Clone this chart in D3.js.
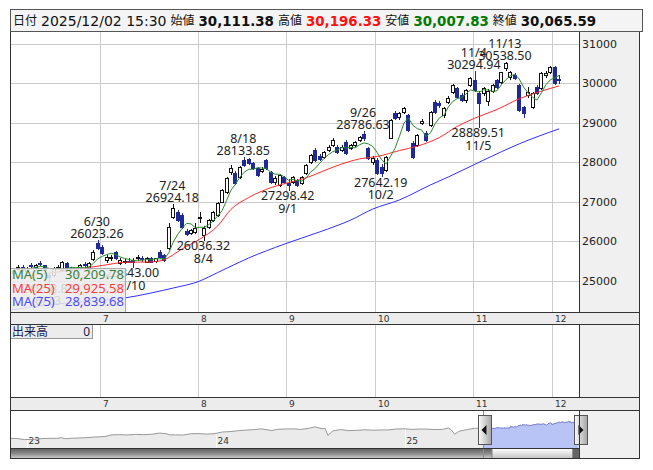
<!DOCTYPE html>
<head>
  <meta charset="utf-8">
  <script src="https://d3js.org/d3.v7.min.js"></script>
  <style>
    body { margin: 0; background: #fff; }
    svg { display: block; }
  </style>
</head>
<body>
<script>
  // daily candles, 2025/6/2 - 2025/12/2
  var dates = ["6/2","6/3","6/4","6/5","6/6","6/9","6/10","6/11","6/12","6/13","6/16","6/17","6/18","6/19","6/20","6/23","6/24","6/25","6/26","6/27","6/30",
    "7/1","7/2","7/3","7/4","7/7","7/8","7/9","7/10","7/11","7/14","7/15","7/16","7/17","7/18","7/22","7/23","7/24","7/25","7/28","7/29","7/30","7/31",
    "8/1","8/4","8/5","8/6","8/7","8/8","8/12","8/13","8/14","8/15","8/18","8/19","8/20","8/21","8/22","8/25","8/26","8/27","8/28","8/29",
    "9/1","9/2","9/3","9/4","9/5","9/8","9/9","9/10","9/11","9/12","9/16","9/17","9/18","9/19","9/22","9/24","9/25","9/26","9/29","9/30",
    "10/1","10/2","10/3","10/6","10/7","10/8","10/9","10/10","10/14","10/15","10/16","10/17","10/20","10/21","10/22","10/23","10/24","10/27","10/28","10/29","10/30","10/31",
    "11/4","11/5","11/6","11/7","11/10","11/11","11/12","11/13","11/14","11/17","11/18","11/19","11/20","11/21","11/25","11/26","11/27","11/28",
    "12/1","12/2"];

  var opens = [25200,25180,25300,25340,25250,25380,25350,25450,25380,25150,25150,25320,25260,25440,25300,25170,25320,25420,25280,25550,25950,
    25850,25520,25560,25720,25440,25470,25500,25520,25560,25570,25470,25570,25500,25730,25650,25820,26610,26735,26660,26250,26210,26230,
    26570,26150,26350,26530,26660,27000,27240,27750,27720,27620,28050,28080,27970,27850,27780,28050,27750,27500,27420,27620,
    27480,27500,27540,27470,27730,28000,28300,28150,28130,28300,28430,28380,28300,28500,28350,28430,28560,28700,28350,28000,
    28050,27870,27800,28610,29240,29130,29265,29190,28480,28430,28990,28730,28940,29520,29500,29190,29520,29770,29870,29700,29570,29950,
    30076,29750,29750,29550,29800,30076,30025,30380,30150,30200,29950,29390,29700,29390,29900,29870,30200,30280,
    30400,30111.38];

  var highs = [25260,25280,25380,25380,25340,25440,25420,25500,25400,25200,25330,25400,25500,25480,25350,25280,25420,25470,25460,25760,26023.26,
    25900,25650,25640,25750,25560,25540,25560,25560,25640,25620,25600,25600,25580,25760,25680,26456,26924.18,26780,26700,26300,26300,26450,
    26734,26380,26560,26760,26980,27310,27620,27930,27760,27900,28133.85,28110,28000,27880,27870,28080,27780,27650,27700,27650,
    27560,27650,27580,27650,27960,28200,28350,28200,28280,28420,28600,28420,28420,28560,28460,28540,28660,28786.63,28380,28150,
    28100,27950,28150,29080,29280,29260,29400,29220,28520,28700,29080,28780,29290,29560,29540,29400,29660,29980,29900,29750,29840,30160,
    30294.94,29800,29900,29850,29980,30100,30290,30538.50,30300,30250,29980,29420,29900,29760,29950,30270,30300,30420,
    30420,30196.33];

  var lows = [25120,25150,25260,25240,25210,25330,25300,25380,25220,24958.83,25120,25280,25230,25270,25220,25110,25300,25350,25260,25530,25800,
    25680,25480,25520,25540,25420,25450,25460,25343.00,25520,25500,25460,25460,25470,25580,25500,25800,26580,26500,26320,26140,26180,26200,
    26480,26036.32,26320,26500,26640,26980,27220,27700,27440,27600,27900,27950,27820,27640,27750,27830,27480,27450,27400,27480,
    27298.42,27480,27380,27440,27700,27980,28020,28050,28100,28280,28400,28230,28270,28200,28320,28400,28540,28560,28080,27960,
    27700,27642.19,27780,28600,29090,29080,29230,28780,28100,28400,28960,28520,28920,29240,29400,29150,29500,29750,29620,29540,29520,29930,
    29800,28889.51,29700,29450,29780,29880,30000,30330,30100,30100,29300,29130,29650,29360,29720,29850,30150,30250,
    29980,30007.83];

  var closes = [25180,25250,25330,25280,25310,25360,25400,25420,25260,25080,25300,25350,25470,25300,25260,25240,25400,25380,25440,25720,25820,
    25700,25600,25600,25570,25520,25500,25480,25460,25600,25540,25570,25480,25560,25600,25530,26350,26835,26530,26350,26170,26280,26330,
    26610,26330,26530,26734,26960,27290,27600,27850,27470,27870,27920,27970,27850,27670,27830,27850,27500,27600,27670,27500,
    27420,27620,27420,27620,27920,28170,28050,28080,28250,28380,28560,28250,28380,28230,28430,28510,28630,28620,28100,28100,
    27720,27720,28130,29060,29110,29240,29370,28810,28130,28680,29050,28560,29270,29265,29440,29370,29620,29950,29650,29570,29820,30130,
    29823,29500,29870,29800,29950,29899,30280,30500,30280,30130,29320,29240,29770,29750,29750,30250,30250,30400,
    30000,30065.59];

  // 25 and 75 day averages
  var ma25Dates = ["6/2","6/16","7/1","7/8","7/16","7/22","7/28","8/1","8/7","8/13","8/19","8/26","9/1","9/5","9/11","9/18","9/25","10/1","10/8","10/15","10/22","10/28","11/4","11/11","11/18","11/25","12/2"];
  var ma25Values = [25050,25200,25380,25460,25470,25530,25800,26050,26380,26800,27100,27350,27480,27600,27780,27950,28080,28140,28290,28400,28620,28900,29110,29330,29600,29760,29925.58];
  var ma75Dates = ["6/2","6/16","7/1","7/8","7/16","7/24","8/1","8/7","8/19","8/29","9/10","9/22","9/30","10/8","10/20","10/24","11/6","11/18","12/2"];
  var ma75Values = [24250,24400,24500,24557,24684,24810,24987,25200,25570,25920,26230,26530,26810,27040,27420,27620,28050,28460,28839.68];

  // marked highs and lows
  var peakDates = ["6/30","7/24","8/18","9/26","11/4","11/13"];
  var troughDates = ["6/13","7/10","8/4","9/1","10/2","11/5"];

  var monthStarts = ["7/1","8/1","9/1","10/1","11/4","12/1"];
  var monthLabels = ["7","8","9","10","11","12"];
  var priceTicks = [25000,26000,27000,28000,29000,30000,31000];

  var headerLabels = ["日付","始値","高値","安値","終値"];
  var headerValues = ["2025/12/02 15:30","30,111.38","30,196.33","30,007.83","30,065.59"];
  var maNames = ["MA(5)","MA(25)","MA(75)"];
  var maLast = ["30,209.78","29,925.58","28,839.68"];

  // navigator history before the daily window
  var navDates = ["2022-11-28","2022-12-15","2022-12-28","2023-01-13","2023-01-31","2023-02-15","2023-02-28","2023-03-09","2023-03-17","2023-03-31",
    "2023-04-14","2023-04-28","2023-05-15","2023-05-31","2023-06-15","2023-06-30","2023-07-14","2023-07-31","2023-08-15","2023-08-31",
    "2023-09-15","2023-09-29","2023-10-04","2023-10-16","2023-10-31","2023-11-15","2023-11-30","2023-12-15","2023-12-29",
    "2024-01-15","2024-01-31","2024-02-15","2024-02-29","2024-03-15","2024-03-29","2024-04-19","2024-04-30","2024-05-15","2024-05-31",
    "2024-06-14","2024-06-28","2024-07-11","2024-07-25","2024-07-31","2024-08-05","2024-08-15","2024-08-30","2024-09-13","2024-09-30",
    "2024-10-15","2024-10-31","2024-11-15","2024-11-29","2024-12-13","2024-12-30",
    "2025-01-15","2025-01-31","2025-02-14","2025-02-28","2025-03-14","2025-03-26","2025-03-31","2025-04-07","2025-04-15","2025-04-30",
    "2025-05-15","2025-05-30"];
  var navValues = [17900,17700,16950,17000,17700,17900,17850,18350,17600,18000,
    18150,18400,18900,19150,20450,20600,20400,20800,20600,20900,
    21800,21200,20500,20400,20350,21300,21400,21000,21300,
    22600,22900,23600,24000,24300,24900,23700,24600,24800,24900,
    24500,25250,26350,25000,25150,20050,23400,24400,23600,23800,
    24200,23900,24100,24100,24700,25000,
    24500,24800,24700,24400,24500,25500,24300,20900,23100,24300,
    25300,25400];
  var navYearTicks = ["2023-01-01","2024-01-01","2025-01-01"];
  var navYearLabels = ["23","24","25"];

  // layout
  var W = 653, H = 470;
  var left = 10, plotR = 579, frameR = 640;
  var mainT = 31, mainB = 312, volT = 324, volB = 397, stripB = 410, navB = 448, scrollB = 459;

  var green = "#2a8a2a", red = "#ff2b2b", blue = "#3030ff", navy = "#1f2a96";

  var svg = d3.select("body").append("svg")
    .attr("width", W).attr("height", H)
    .style("font-family", "'DejaVu Sans', sans-serif");

  var defs = svg.append("defs");
  defs.append("clipPath").attr("id", "plotClip").append("rect")
    .attr("x", left).attr("y", mainT).attr("width", plotR - left).attr("height", mainB - mainT);
  defs.append("clipPath").attr("id", "navClip").append("rect")
    .attr("x", left).attr("y", stripB).attr("width", plotR - left).attr("height", navB - stripB);

  function grad(id, stops, horizontal) {
    var g = defs.append("linearGradient").attr("id", id)
      .attr("x1", 0).attr("y1", 0).attr("x2", horizontal ? 1 : 0).attr("y2", horizontal ? 0 : 1);
    stops.forEach(function(s) { g.append("stop").attr("offset", s[0]).attr("stop-color", s[1]); });
  }
  grad("scrollGrad", [[0, "#5a5a5a"], [0.5, "#8a8a8a"], [1, "#d6d6d6"]]);
  grad("thumbGrad", [[0, "#ffffff"], [1, "#c4c4c4"]]);
  grad("handleGrad", [[0, "#ffffff"], [1, "#a8a8a8"]], true);

  // scales
  var x = d3.scaleLinear().domain([0.18, 128.48]).range([left, plotR]);
  var y = d3.scaleLinear().domain([25000, 31000]).range([280.5, 43.5]);
  var idx = function(d) { return dates.indexOf(d); };
  var px = function(v) { return Math.round(v) + 0.5; };

  // panels
  svg.append("rect").attr("x", left).attr("y", mainT).attr("width", frameR - left).attr("height", scrollB - mainT).attr("fill", "#fff");
  svg.append("rect").attr("x", plotR).attr("y", mainT).attr("width", frameR - plotR).attr("height", scrollB - mainT).attr("fill", "#f0f0f0");
  [[mainB, volT], [volB, stripB]].forEach(function(s) {
    svg.append("rect").attr("x", left).attr("y", s[0]).attr("width", frameR - left).attr("height", s[1] - s[0]).attr("fill", "#ececec");
  });

  // grid
  var grid = svg.append("g").attr("stroke", "#cccccc").attr("shape-rendering", "crispEdges");
  priceTicks.forEach(function(v) {
    grid.append("line").attr("x1", left).attr("x2", plotR).attr("y1", px(y(v))).attr("y2", px(y(v)));
  });
  monthStarts.forEach(function(d) {
    var gx = px(x(idx(d) - 0.5));
    grid.append("line").attr("x1", gx).attr("x2", gx).attr("y1", mainT).attr("y2", mainB);
    grid.append("line").attr("x1", gx).attr("x2", gx).attr("y1", volT).attr("y2", volB);
  });

  // candles
  var plot = svg.append("g").attr("clip-path", "url(#plotClip)");
  var candles = plot.append("g").attr("shape-rendering", "crispEdges");
  dates.forEach(function(d, i) {
    var cx = Math.round(x(i));
    var up = closes[i] >= opens[i];
    var col = up ? "#111" : navy;
    candles.append("line").attr("x1", cx + 0.5).attr("x2", cx + 0.5)
      .attr("y1", Math.round(y(highs[i]))).attr("y2", Math.round(y(lows[i])) + 1).attr("stroke", col);
    var top = Math.round(y(Math.max(opens[i], closes[i])));
    var bot = Math.round(y(Math.min(opens[i], closes[i])));
    candles.append("rect").attr("x", cx - 1.5).attr("y", top + 0.5)
      .attr("width", 3).attr("height", Math.max(bot - top, 1))
      .attr("fill", up ? "#fff" : navy).attr("stroke", col);
  });

  // moving averages
  var ma5 = closes.map(function(c, i) { return i < 4 ? null : d3.mean(closes.slice(i - 4, i + 1)); });
  var line = d3.line().defined(function(d) { return d[1] != null; })
    .x(function(d) { return x(d[0]); }).y(function(d) { return y(d[1]); });
  var smooth = d3.line().curve(d3.curveMonotoneX)
    .x(function(d) { return x(d[0]); }).y(function(d) { return y(d[1]); });
  plot.append("path").attr("d", smooth(ma75Dates.map(function(d, i) { return [idx(d), ma75Values[i]]; })))
    .attr("fill", "none").attr("stroke", blue);
  plot.append("path").attr("d", smooth(ma25Dates.map(function(d, i) { return [idx(d), ma25Values[i]]; })))
    .attr("fill", "none").attr("stroke", red);
  plot.append("path").attr("d", line(ma5.map(function(v, i) { return [i, v]; })))
    .attr("fill", "none").attr("stroke", green);

  // high / low notes
  var fmt = d3.format(".2f");
  var notes = plot.append("g").attr("font-family", "'Noto Sans', sans-serif").attr("font-size", 12.5)
    .attr("fill", "#222").attr("text-anchor", "middle");
  peakDates.forEach(function(d) {
    var i = idx(d), hy = y(highs[i]);
    notes.append("text").attr("x", x(i) - 1).attr("y", hy - 14).text(d);
    notes.append("text").attr("x", x(i) - 1).attr("y", hy - 2).text(fmt(highs[i]));
  });
  troughDates.forEach(function(d) {
    var i = idx(d), ly = y(lows[i]);
    notes.append("text").attr("x", x(i) - 1).attr("y", ly + 10.5).text(fmt(lows[i]));
    notes.append("text").attr("x", x(i) - 1).attr("y", ly + 23).text(d);
  });

  // MA legend, drawn over the notes like the original
  var leg = svg.append("g");
  leg.append("rect").attr("x", left + 0.5).attr("y", 268.5).attr("width", 115).attr("height", mainB - 268)
    .attr("fill", "rgba(236,236,236,0.88)").attr("stroke", "#aaaaaa");
  var legColors = ["#3b803b", "#ff3b3b", "#4a4aff"];
  maNames.forEach(function(n, k) {
    var ty = 279 + k * 13.5;
    leg.append("text").attr("x", 12).attr("y", ty).attr("fill", legColors[k])
      .attr("font-family", "'Noto Sans', sans-serif").attr("font-size", 13).text(n);
    leg.append("text").attr("x", 124).attr("y", ty).attr("fill", legColors[k]).attr("text-anchor", "end")
      .attr("font-family", "'Noto Sans', sans-serif").attr("font-size", 13).text(maLast[k]);
  });

  // price axis labels
  priceTicks.forEach(function(v) {
    svg.append("text").attr("x", 582).attr("y", y(v) + 4).attr("font-size", 11).attr("fill", "#222").text(v);
  });

  // month labels in both strips
  [321.5, 407].forEach(function(ty) {
    monthStarts.forEach(function(d, k) {
      svg.append("text").attr("x", Math.round(x(idx(d) - 0.5)) + 3).attr("y", ty)
        .attr("font-size", 9).attr("fill", "#333").text(monthLabels[k]);
    });
  });

  // volume label
  svg.append("rect").attr("x", left + 0.5).attr("y", volT + 0.5).attr("width", 82).attr("height", 14)
    .attr("fill", "#ececec").attr("stroke", "#999");
  svg.append("text").attr("x", 12).attr("y", volT + 12).attr("font-family", "'Noto Sans CJK JP', sans-serif")
    .attr("font-size", 12).attr("fill", "#1a1a50").text("出来高");
  svg.append("text").attr("x", 90).attr("y", volT + 12).attr("text-anchor", "end")
    .attr("font-family", "'Noto Sans', sans-serif").attr("font-size", 12).attr("fill", "#1a1a50").text("0");

  // navigator
  var parse = d3.timeParse("%Y-%m-%d");
  var nx = d3.scaleTime().domain([new Date(2024, 0, 1), new Date(2025, 0, 1)]).range([215.5, 405]);
  var ny = d3.scaleLinear().domain([10700, 38900]).range([navB, stripB]);
  var hist = navDates.map(function(d, i) { return [parse(d), navValues[i]]; });
  var daily = dates.map(function(d, i) {
    var p = d.split("/");
    return [new Date(2025, +p[0] - 1, +p[1]), closes[i]];
  });
  var all = hist.concat(daily);
  var area = d3.area().x(function(d) { return nx(d[0]); }).y0(navB).y1(function(d) { return ny(d[1]); });
  var nline = d3.line().x(function(d) { return nx(d[0]); }).y(function(d) { return ny(d[1]); });
  var nav = svg.append("g").attr("clip-path", "url(#navClip)");
  nav.append("path").attr("d", area(all)).attr("fill", "#ebebeb");
  navYearTicks.forEach(function(d, k) {
    var tx = px(nx(parse(d)));
    nav.append("line").attr("x1", tx).attr("x2", tx).attr("y1", 424).attr("y2", navB).attr("stroke", "#fff");
    nav.append("text").attr("x", tx + 1).attr("y", 444).attr("font-size", 9).attr("fill", "#333").text(navYearLabels[k]);
  });
  nav.append("path").attr("d", area(daily)).attr("fill", "#b8c3f6");
  nav.append("path").attr("d", nline(hist.concat([daily[0]]))).attr("fill", "none").attr("stroke", "#999");
  nav.append("path").attr("d", nline(daily)).attr("fill", "none").attr("stroke", "#7070c8");

  var winL = px(nx(daily[0][0])) - 1, winR = px(nx(daily[daily.length - 1][0])) + 1;

  // scrollbar
  svg.append("rect").attr("x", left).attr("y", navB).attr("width", plotR - left).attr("height", scrollB - navB)
    .attr("fill", "url(#scrollGrad)");
  svg.append("rect").attr("x", winL + 8.5).attr("y", navB + 0.5).attr("width", winR - winL - 15).attr("height", scrollB - navB - 1)
    .attr("fill", "url(#thumbGrad)").attr("stroke", "#888");
  svg.append("rect").attr("x", winR - 7).attr("y", navB).attr("width", plotR - winR + 7).attr("height", scrollB - navB)
    .attr("fill", "#666");

  [winL, winR].forEach(function(wx) {
    svg.append("line").attr("x1", wx).attr("x2", wx).attr("y1", stripB).attr("y2", scrollB)
      .attr("stroke", "#33aadd").attr("shape-rendering", "crispEdges");
  });
  function handle(cx, dir) {
    svg.append("rect").attr("x", Math.round(cx) - 6).attr("y", 415.5).attr("width", 13).attr("height", 29)
      .attr("fill", "url(#handleGrad)").attr("stroke", "#555").attr("shape-rendering", "crispEdges");
    var tx = Math.round(cx) + 0.5, ty = 430;
    var pts = dir < 0 ? [[tx + 2, ty - 5], [tx + 2, ty + 5], [tx - 3, ty]] : [[tx - 2, ty - 5], [tx - 2, ty + 5], [tx + 3, ty]];
    svg.append("path").attr("d", d3.line()(pts) + "Z").attr("fill", "#111");
  }
  handle(winL, -1);
  handle(winR, 1);

  // frame lines
  var fr = svg.append("g").attr("stroke", "#333").attr("shape-rendering", "crispEdges").attr("fill", "none");
  fr.append("rect").attr("x", left + 0.5).attr("y", mainT + 0.5).attr("width", frameR - left - 1).attr("height", scrollB - mainT - 1);
  [mainB, volT, volB, stripB, navB].forEach(function(ly) {
    fr.append("line").attr("x1", left).attr("x2", ly === navB ? plotR : frameR).attr("y1", ly + 0.5).attr("y2", ly + 0.5);
  });
  [[mainT, mainB], [volT, volB], [stripB, scrollB]].forEach(function(s) {
    fr.append("line").attr("x1", plotR + 0.5).attr("x2", plotR + 0.5).attr("y1", s[0]).attr("y2", s[1]);
  });

  // header
  svg.append("rect").attr("x", left + 0.5).attr("y", 9.5).attr("width", 632).attr("height", 21.5)
    .attr("fill", "#f4f4f4").attr("stroke", "#555").attr("shape-rendering", "crispEdges");
  var hx = 13;
  var valueColors = ["#111", "#111", "#ff1010", "#007a00", "#111"];
  headerLabels.forEach(function(lb, k) {
    var t = svg.append("text").attr("x", hx).attr("y", 25).attr("font-family", "'Noto Sans CJK JP', sans-serif")
      .attr("font-size", 12).attr("fill", "#111").text(lb);
    hx += t.node().getComputedTextLength() + 4;
    var v = svg.append("text").attr("x", hx).attr("y", 25.5).attr("fill", valueColors[k])
      .attr("font-size", k === 0 ? 14 : 13.4).attr("font-weight", k === 0 ? "normal" : "bold").text(headerValues[k]);
    hx += v.node().getComputedTextLength() + 4;
  });
</script>
</body>
